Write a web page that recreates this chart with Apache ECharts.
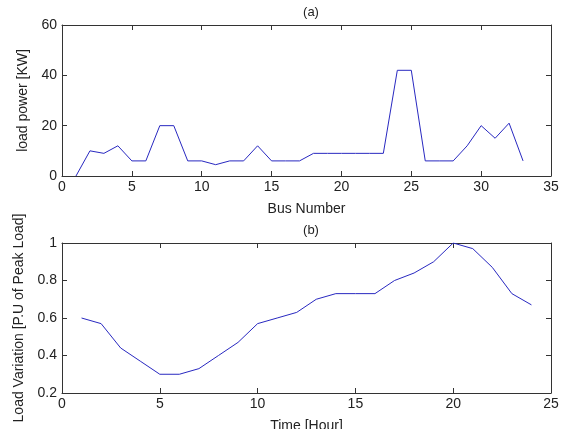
<!DOCTYPE html>
<html><head><meta charset="utf-8">
<script src="https://cdn.jsdelivr.net/npm/echarts@6/dist/echarts.min.js"></script>
<style>html,body{margin:0;padding:0;background:#fff}#c{width:568px;height:439px}</style>
</head><body><div id="c"></div>
<script>
var busNumbers = [1,2,3,4,5,6,7,8,9,10,11,12,13,14,15,16,17,18,19,20,21,22,23,24,25,26,27,28,29,30,31,32,33];
var loadPower = [0,10,9,12,6,6,20,20,6,6,4.5,6,6,12,6,6,6,9,9,9,9,9,9,42,42,6,6,6,12,20,15,21,6];
var hours = [1,2,3,4,5,6,7,8,9,10,11,12,13,14,15,16,17,18,19,20,21,22,23,24];
var loadVariation = [0.60,0.57,0.44,0.37,0.30,0.30,0.33,0.40,0.47,0.57,0.60,0.63,0.70,0.73,0.73,0.73,0.80,0.84,0.90,1.00,0.97,0.87,0.73,0.67];
var titleA = '(a)', titleB = '(b)';
var xNameA = 'Bus Number', yNameA = 'load power [KW]';
var xNameB = 'Time [Hour]', yNameB = 'Load Variation [P.U of Peak Load]';

var FONT = 'Liberation Sans, Arial, sans-serif';
var TXT = '#222';
var AX = '#333';
var FS = 14;
function mkX(grid, min, max, interval, name, top) {
  return {
    type: 'value', gridIndex: grid, min: min, max: max, interval: interval,
    position: top ? 'top' : 'bottom',
    name: top ? '' : name, nameLocation: 'middle', nameGap: 26,
    nameTextStyle: {fontFamily: FONT, fontSize: FS, color: TXT},
    axisLine: {show: true, onZero: false, lineStyle: {color: AX, width: 1}},
    axisTick: {show: true, inside: true, length: 5, lineStyle: {color: AX}},
    axisLabel: {show: !top, fontFamily: FONT, fontSize: FS, color: TXT, margin: 4},
    splitLine: {show: false}
  };
}
function mkY(grid, min, max, interval, name, right, gap) {
  return {
    type: 'value', gridIndex: grid, min: min, max: max, interval: interval,
    position: right ? 'right' : 'left',
    name: right ? '' : name, nameLocation: 'middle', nameGap: gap,
    nameTextStyle: {fontFamily: FONT, fontSize: FS, color: TXT},
    axisLine: {show: true, onZero: false, lineStyle: {color: AX, width: 1}},
    axisTick: {show: true, inside: true, length: 5, lineStyle: {color: AX}},
    axisLabel: {show: !right, fontFamily: FONT, fontSize: FS, color: TXT, margin: 5,
      formatter: function(v){ return String(Math.round(v*10)/10); }},
    splitLine: {show: false}
  };
}
var chart = echarts.init(document.getElementById('c'), null, {renderer: 'canvas'});
chart.setOption({
  animation: false,
  backgroundColor: '#fff',
  title: [
    {text: titleA, left: 306, top: 1, textAlign: 'center', textStyle: {fontFamily: FONT, fontSize: 13, fontWeight: 'normal', color: TXT}},
    {text: titleB, left: 306, top: 219, textAlign: 'center', textStyle: {fontFamily: FONT, fontSize: 13, fontWeight: 'normal', color: TXT}}
  ],
  grid: [
    {left: 62, right: 17, top: 25, height: 151},
    {left: 62, right: 17, top: 243, height: 150}
  ],
  xAxis: [
    mkX(0, 0, 35, 5, xNameA, false),
    mkX(0, 0, 35, 5, '', true),
    mkX(1, 0, 25, 5, xNameB, false),
    mkX(1, 0, 25, 5, '', true)
  ],
  yAxis: [
    mkY(0, 0, 60, 20, yNameA, false, 30),
    mkY(0, 0, 60, 20, '', true, 0),
    mkY(1, 0.2, 1, 0.2, yNameB, false, 34),
    mkY(1, 0.2, 1, 0.2, '', true, 0)
  ],
  graphic: [
    {type: 'rect', z: 1000, shape: {x: 0, y: 429, width: 568, height: 10}, style: {fill: '#fff'}}
  ],
  series: [
    {type: 'line', xAxisIndex: 0, yAxisIndex: 0, showSymbol: false, symbol: 'none',
     lineStyle: {color: '#2828c0', width: 1}, data: busNumbers.map(function(b,i){return [b, loadPower[i]];})},
    {type: 'line', xAxisIndex: 2, yAxisIndex: 2, showSymbol: false, symbol: 'none',
     lineStyle: {color: '#2828c0', width: 1}, data: hours.map(function(h,i){return [h, loadVariation[i]];})}
  ]
});
</script></body></html>
